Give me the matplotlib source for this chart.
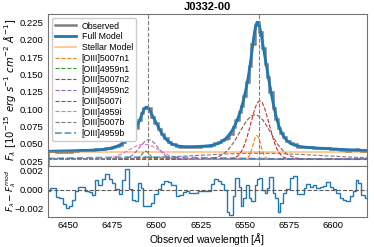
import numpy as np
import matplotlib
matplotlib.use("Agg")
from matplotlib import pyplot as plt

plt.rcParams["font.family"] = ["Liberation Sans", "DejaVu Sans"]
plt.rcParams["mathtext.fontset"] = "dejavusans"

# observed bins (left edges + last right edge) and residuals
bin_edges = [6438.7, 6439.8, 6443.2, 6445.1, 6447.0, 6448.9, 6450.7, 6452.2, 6454.1, 6456.0,
             6459.8, 6462.0, 6463.9, 6465.4, 6467.3, 6469.2, 6471.1, 6473.0, 6474.9, 6476.8,
             6478.7, 6480.6, 6482.5, 6484.3, 6486.2, 6488.1, 6489.6, 6491.5, 6492.6, 6496.9,
             6498.8, 6500.7, 6502.6, 6504.5, 6506.4, 6508.3, 6511.1, 6513.0, 6515.2, 6516.8,
             6518.6, 6523.4, 6525.2, 6530.9, 6532.8, 6534.7, 6536.6, 6538.5, 6539.8, 6541.3,
             6543.2, 6544.7, 6546.6, 6547.9, 6549.2, 6550.7, 6552.2, 6553.7, 6555.6, 6556.8,
             6558.3, 6559.8, 6561.3, 6562.8, 6563.9, 6565.8, 6567.3, 6568.6, 6570.0, 6571.5,
             6573.0, 6575.7, 6577.5, 6579.4, 6583.3, 6584.7, 6586.6, 6588.5, 6590.4, 6592.3,
             6594.1, 6596.0, 6597.9, 6599.8, 6601.7, 6603.6, 6605.5, 6607.4, 6609.2, 6611.1,
             6612.6, 6614.1, 6615.8, 6617.7, 6619.6, 6621.0]
residual = [-0.0001, 0.00018, -0.00077, -0.00088, -0.00147, -0.00186, -0.00165, -0.00105, -0.0001, 0.00025,
            -0.00018, -0.00025, -0.00053, 0.00098, 0.00046, 0.00105, 0.00165, 0.00105, 0.0007, 0.0001,
            -0.00046, 0.00095, 0.0021, 0.0001, -0.00105, -0.00123, 0.0007, 0.0002, -0.0017, -0.0014,
            -0.00046, 0.0001, 0.00053, 0.00088, 0.0008, 0.00046, -0.0007, -0.0006, -0.00025, -0.00018,
            -0.00035, -0.00018, -0.0001, 0.00053, 0.00105, 0.00088, 0.0006, 0.0, -0.00228, -0.00263,
            -0.0007, 0.00123, 0.00025, -0.00175, -0.00088, 0.00046, -0.00088, -0.00123, 0.00046, 0.00105,
            0.00116, 0.0, -0.00035, 0.0002, 0.0013, -0.00035, -0.00088, -0.00228, -0.0014, -0.00035,
            0.0001, 0.00123, 0.0014, -0.00046, 0.00018, 0.00053, 0.00025, 0.00046, 0.00018, 0.00025,
            0.00035, 0.0008, 0.00025, 0.0001, -0.00035, -0.00088, -0.00105, -0.00116, -0.0007, -0.00018,
            0.00095, 0.0007, -0.00053, -0.00088, -0.0007]

# gaussian components: centre [A], amplitude, sigma [A]
comp_names = ["[OIII]5007n1", "[OIII]4959n1", "[OIII]5007n2", "[OIII]4959n2",
              "[OIII]5007i", "[OIII]4959i", "[OIII]5007b", "[OIII]4959b"]
comp_center = [6556.8, 6494.0, 6558.5, 6495.7, 6555.8, 6493.0, 6557.0, 6494.0]
comp_amp = [0.034, 0.0115, 0.084, 0.028, 0.064, 0.0215, 0.0085, 0.003]
comp_sigma = [2.2, 2.2, 5.2, 5.2, 8.7, 8.7, 37.0, 37.0]
comp_colors = ["C1", "C2", "C3", "C4", "C5", "C6", "C7", "C0"]

stellar_level = 0.0384
comp_offset = 0.028
line_marks = [6495.5, 6558.0]


def gauss(x, c, a, s):
    return a * np.exp(-0.5 * ((x - c) / s) ** 2)


def full_model(x):
    tot = np.full_like(x, stellar_level)
    for c, a, s in zip(comp_center, comp_amp, comp_sigma):
        tot += gauss(x, c, a, s)
    return tot


edges = np.array(bin_edges)
centers = 0.5 * (edges[1:] + edges[:-1])
observed = full_model(centers) + np.array(residual)
wl = np.linspace(edges[0], edges[-1], 800)

fig, (ax, axr) = plt.subplots(2, 1, figsize=(3.74, 2.47), dpi=100, sharex=True,
                              gridspec_kw={"height_ratios": [3, 1], "hspace": 0})
fig.subplots_adjust(left=0.128, right=0.981, top=0.943, bottom=0.123)

ax.stairs(observed, edges, color="grey", lw=1.8, label="Observed")
ax.plot(wl, full_model(wl), color="C0", lw=2, label="Full Model")
ax.plot(wl, np.full_like(wl, stellar_level), color="C1", alpha=0.5, lw=1.2, label="Stellar Model")
for name, c, a, s, col in zip(comp_names, comp_center, comp_amp, comp_sigma, comp_colors):
    if name.endswith("4959b"):
        ax.plot(wl, comp_offset + gauss(wl, c, a, s), "--", color=col, alpha=0.7, lw=1.3, label=name)
    else:
        ax.plot(wl, comp_offset + gauss(wl, c, a, s), "--", color=col, lw=0.8, label=name)
for lm in line_marks:
    ax.axvline(lm, color="grey", ls="--", lw=0.8)

ax.set_xlim(6438.7, 6619)
ax.set_ylim(0.0182, 0.2374)
ax.set_yticks(np.arange(0.025, 0.226, 0.025))
ax.set_title("J0332-00", fontsize=8, fontweight="bold", pad=3)
ax.set_ylabel(r"$F_\lambda\ [10^{-15}\ erg\ s^{-1}\ cm^{-2}\ \AA^{-1}]$", fontsize=7.3)
ax.yaxis.set_label_coords(-0.093, 0.5)
ax.legend(loc="upper left", fontsize=6.3, handlelength=2.4, labelspacing=0.2,
          borderpad=0.35, handletextpad=0.6, edgecolor="0.8", framealpha=1)

axr.stairs(residual, edges, color="C0", lw=1)
axr.axhline(0, color="0.35", ls="--", lw=0.8)
axr.set_ylim(-0.0028, 0.00244)
axr.set_yticks([-0.002, 0.0, 0.002])
axr.set_xticks(np.arange(6450, 6601, 25))
axr.set_ylabel(r"$F_\lambda - F_\lambda^{mod}$", fontsize=6.5)
axr.yaxis.set_label_coords(-0.093, 0.5)
axr.set_xlabel(r"Observed wavelength [$\AA$]", fontsize=7.4, labelpad=1)

for a in (ax, axr):
    a.tick_params(labelsize=6.8, length=0, pad=3)
    for sp in a.spines.values():
        sp.set_color("0.45")
        sp.set_linewidth(0.8)

fig.savefig("out.png", dpi=100)
